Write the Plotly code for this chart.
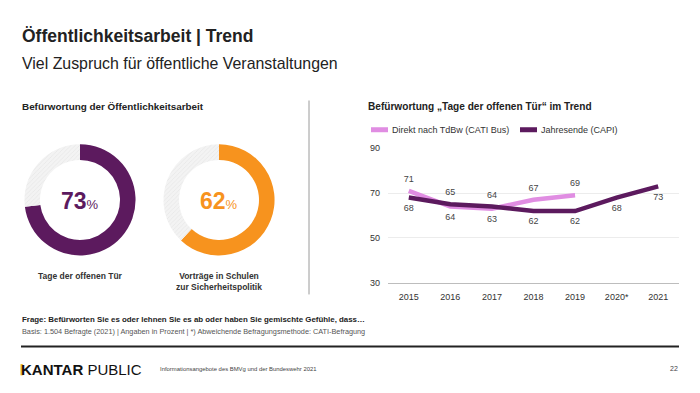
import plotly.graph_objects as go

# ---------------- data ----------------
years = ["2015", "2016", "2017", "2018", "2019", "2020*", "2021"]
direkt_tdbw = [71, 64, 63, 67, 69, None, None]
jahresende = [68, 65, 64, 62, 62, 68, 73]
direkt_pos = ["top center", "bottom center", "bottom center", "top center", "top center", "top center", "top center"]
jahres_pos = ["bottom center", "top center", "top center", "bottom center", "bottom center", "bottom center", "bottom center"]

donut_labels = ["Tage der offenen Tür", "Vorträge in Schulen<br>zur Sicherheitspolitik"]
donut_values = [73, 62]
y_ticks = [30, 50, 70, 90]

PURPLE = "#5c1a5e"
ORANGE = "#f7931e"
PINK = "#e08de2"
TXT = "#333333"
FONT = "Liberation Sans, Arial, sans-serif"

W, H = 700, 393
def px(x):
    return x / W
def py(y):
    return 1 - y / H

fig = go.Figure()

# ---------------- donuts ----------------
donut_colors = [PURPLE, ORANGE]
centers = [(80, 200), (219, 200)]
R = 57
for val, col, (cx, cy), lab in zip(donut_values, donut_colors, centers, donut_labels):
    fig.add_trace(go.Pie(
        values=[val, 100 - val],
        labels=["ja", "rest"],
        hole=0.72,
        sort=False,
        direction="clockwise",
        rotation=0,
        textinfo="none",
        hoverinfo="skip",
        showlegend=False,
        marker=dict(
            colors=[col, "#f2f2f2"],
            line=dict(width=0),
            pattern=dict(shape=["", "/"], fgcolor="#e4e4e4", bgcolor="#f3f3f3", size=3, solidity=0.2),
        ),
        domain=dict(x=[px(cx - R), px(cx + R)], y=[py(cy + R), py(cy - R)]),
    ))
    fig.add_annotation(
        x=px(cx), y=py(cy + 1), xref="paper", yref="paper",
        text=f"<b>{val}</b><span style='font-size:13px'>%</span>",
        showarrow=False, xanchor="center", yanchor="middle",
        font=dict(family=FONT, size=23, color=col),
    )
    fig.add_annotation(
        x=px(cx), y=py(271), xref="paper", yref="paper",
        text=f"<b>{lab}</b>", showarrow=False, xanchor="center", yanchor="top",
        align="center", font=dict(family=FONT, size=8.5, color=TXT),
    )

# ---------------- line chart ----------------
fig.add_trace(go.Scatter(
    x=years, y=direkt_tdbw, mode="lines+markers+text", name="Direkt nach TdBw (CATI Bus)",
    line=dict(color=PINK, width=4.5), marker=dict(size=9, color="rgba(0,0,0,0)"),
    text=[str(v) if v is not None else "" for v in direkt_tdbw],
    textposition=direkt_pos, textfont=dict(family=FONT, size=9, color="#444444"),
    hoverinfo="skip", showlegend=False, cliponaxis=False,
))
fig.add_trace(go.Scatter(
    x=years, y=jahresende, mode="lines+markers+text", name="Jahresende (CAPI)",
    line=dict(color=PURPLE, width=4.5), marker=dict(size=9, color="rgba(0,0,0,0)"),
    text=[str(v) for v in jahresende],
    textposition=jahres_pos, textfont=dict(family=FONT, size=9, color="#444444"),
    hoverinfo="skip", showlegend=False, cliponaxis=False,
))

fig.update_layout(
    width=W, height=H,
    margin=dict(l=0, r=0, t=0, b=0),
    paper_bgcolor="white", plot_bgcolor="white",
    font=dict(family=FONT, color=TXT),
    xaxis=dict(
        domain=[px(388), px(679)], type="category", range=[-0.5, 6.5],
        showgrid=False, showline=True, linecolor="#bdbdbd", linewidth=1,
        ticks="", tickfont=dict(family=FONT, size=9, color=TXT), fixedrange=True,
        ticklabelstandoff=5,
    ),
    yaxis=dict(
        domain=[py(285), py(147)], range=[30, 90], tickvals=y_ticks,
        showgrid=True, gridcolor="#ececec", gridwidth=1, zeroline=False,
        ticks="", tickfont=dict(family=FONT, size=9, color=TXT), fixedrange=True,
        ticklabelstandoff=7,
    ),
)

# legend (manual)
fig.add_shape(type="line", xref="paper", yref="paper", x0=px(371), x1=px(388), y0=py(128), y1=py(128),
              line=dict(color=PINK, width=5))
fig.add_annotation(x=px(390), y=py(128), xref="paper", yref="paper", text="Direkt nach TdBw (CATI Bus)",
                   showarrow=False, xanchor="left", yanchor="middle", font=dict(family=FONT, size=9, color=TXT))
fig.add_shape(type="line", xref="paper", yref="paper", x0=px(520), x1=px(537), y0=py(128), y1=py(128),
              line=dict(color=PURPLE, width=5))
fig.add_annotation(x=px(539), y=py(128), xref="paper", yref="paper", text="Jahresende (CAPI)",
                   showarrow=False, xanchor="left", yanchor="middle", font=dict(family=FONT, size=9, color=TXT))

# ---------------- texts ----------------
def txt(x, y, s, size, color="#222222", anchor="left", bold=False):
    fig.add_annotation(x=px(x), y=py(y), xref="paper", yref="paper",
                       text=f"<b>{s}</b>" if bold else s, showarrow=False,
                       xanchor=anchor, yanchor="middle", font=dict(family=FONT, size=size, color=color))

txt(20, 32, "Öffentlichkeitsarbeit | Trend", 17.5, "#222222", bold=True)
txt(20, 60, "Viel Zuspruch für öffentliche Veranstaltungen", 15.9, "#222222")
txt(20, 104, "Befürwortung der Öffentlichkeitsarbeit", 9.9, "#222222", bold=True)
txt(366, 104, "Befürwortung „Tage der offenen Tür“ im Trend", 10.1, "#222222", bold=True)
txt(20, 323, "Frage: Befürworten Sie es oder lehnen Sie es ab oder haben Sie gemischte Gefühle, dass…", 7.9, "#222222", bold=True)
txt(20, 335, "Basis: 1.504 Befragte (2021) | Angaben in Prozent | *) Abweichende Befragungsmethode: CATI-Befragung", 7.3, "#555555")
txt(158, 374, "Informationsangebote des BMVg und der Bundeswehr 2021", 5.9, "#444444")
txt(680, 373, "22", 7, "#444444", anchor="right")

# Kantar logo
fig.add_annotation(x=px(19), y=py(374), xref="paper", yref="paper",
                   text="<b>KANTAR</b> PUBLIC", showarrow=False, xanchor="left", yanchor="middle",
                   font=dict(family=FONT, size=15, color="#111111"))
fig.add_shape(type="rect", xref="paper", yref="paper", x0=px(20.5), x1=px(22.8), y0=py(380), y1=py(368.5),
              line=dict(width=0), fillcolor="#e8b40f")

# separators
fig.add_shape(type="line", xref="paper", yref="paper", x0=px(309), x1=px(309), y0=py(98), y1=py(297),
              line=dict(color="#9a9a9a", width=1))
fig.add_shape(type="line", xref="paper", yref="paper", x0=px(21), x1=px(679), y0=py(350.5), y1=py(350.5),
              line=dict(color="#222222", width=2))

fig.write_html("out.html", config={"displayModeBar": False},
               post_script="document.body.style.margin='0px';")
